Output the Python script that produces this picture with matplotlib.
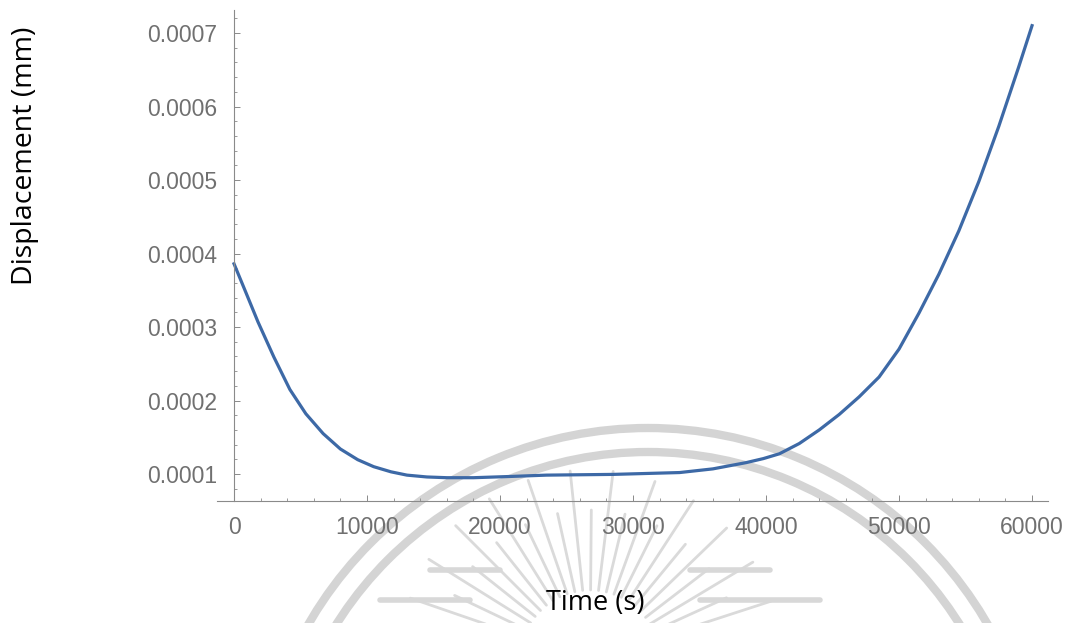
import numpy as np
import matplotlib
matplotlib.use("Agg")
import matplotlib.pyplot as plt
from matplotlib.patches import Arc
from matplotlib.ticker import MultipleLocator

# displacement vs time, read from the model output
time_s = [0, 800, 1800, 3000, 4200, 5400, 6700, 8000, 9300, 10500, 11800,
          13000, 14500, 16000, 18000, 20500, 23500, 28500, 33500, 36000,
          38500, 39800, 41000, 42500, 44000, 45500, 47000, 48500, 50000, 51500,
          53000, 54500, 56000, 57500, 59000, 60000]
disp_1e4 = [3.86, 3.51, 3.07, 2.59, 2.15, 1.82, 1.55, 1.34, 1.195, 1.10, 1.03,
            0.985, 0.96, 0.95, 0.95, 0.965, 0.985, 0.995, 1.02, 1.07,
            1.155, 1.21, 1.275, 1.415, 1.60, 1.81, 2.05, 2.32, 2.70, 3.19,
            3.72, 4.31, 4.98, 5.73, 6.54, 7.10]
disp_mm = [v * 1e-4 for v in disp_1e4]

xticks = [0, 10000, 20000, 30000, 40000, 50000, 60000]
xtick_labels = ['0', '10000', '20000', '30000', '40000', '50000', '60000']
yticks = [0.0001, 0.0002, 0.0003, 0.0004, 0.0005, 0.0006, 0.0007]
ytick_labels = ['0.0001', '0.0002', '0.0003', '0.0004', '0.0005', '0.0006', '0.0007']

W, H = 1065, 623
fig = plt.figure(figsize=(W / 100, H / 100), dpi=100)

# faint seal in the background
bg = fig.add_axes([0, 0, 1, 1], zorder=0)
bg.set_xlim(0, W)
bg.set_ylim(H, 0)
bg.axis('off')
for r in (392, 368):
    bg.add_patch(Arc((648, 820), 2 * r, 2 * r, theta1=0, theta2=360,
                     color='#d4d4d4', lw=6))
cx, cy = 590, 660
for k, ang in enumerate(np.arange(18, 164, 6.5)):
    a = np.deg2rad(ang)
    r0, r1 = 70, (190 if k % 2 == 0 else 150)
    bg.plot([cx + r0 * np.cos(a), cx + r1 * np.cos(a)],
            [cy - r0 * np.sin(a), cy - r1 * np.sin(a)],
            color='#dadada', lw=2.0, solid_capstyle='round')
for x0, x1, y in [(380, 470, 600), (700, 820, 600), (430, 500, 570), (690, 770, 570)]:
    bg.plot([x0, x1], [y, y], color='#d8d8d8', lw=4, solid_capstyle='round')

ax = fig.add_axes([217 / W, 1 - 501 / H, (1048 - 217) / W, (501 - 10) / H], zorder=1)
ax.patch.set_alpha(0)

ax.plot(time_s, disp_mm, color='#3d69a6', lw=2.3, solid_joinstyle='round')

ax.set_xlim(-1280, 61200)
ax.set_ylim(0.0000633, 0.0007313)

for s in ('top', 'right'):
    ax.spines[s].set_visible(False)
ax.spines['left'].set_position(('data', 0))
for s in ('left', 'bottom'):
    ax.spines[s].set_color('#8a8a8a')
    ax.spines[s].set_linewidth(0.8)

ax.set_xticks(xticks)
ax.set_xticklabels(xtick_labels)
ax.set_yticks(yticks)
ax.set_yticklabels(ytick_labels)
ax.xaxis.set_minor_locator(MultipleLocator(2000))
ax.yaxis.set_minor_locator(MultipleLocator(0.00002))
ax.tick_params(which='major', direction='in', length=4.5, width=0.7, color='#8a8a8a',
               labelsize=16.5, labelcolor='#707070')
ax.tick_params(which='minor', direction='in', length=2.5, width=0.6, color='#8a8a8a')
ax.tick_params(axis='x', which='major', pad=11)
ax.tick_params(axis='y', which='major', pad=12)
for lab in ax.get_xticklabels() + ax.get_yticklabels():
    lab.set_family('Liberation Sans')

fig.text(595 / W, 1 - 603 / H, 'Time (s)', ha='center', va='center',
         fontsize=19.5, family='Open Sans', color='black')
fig.text(25 / W, 1 - 156 / H, 'Displacement (mm)', ha='center', va='center',
         rotation=90, fontsize=20.5, family='Open Sans', color='black')

fig.savefig('out.png', dpi=100, facecolor='white')
